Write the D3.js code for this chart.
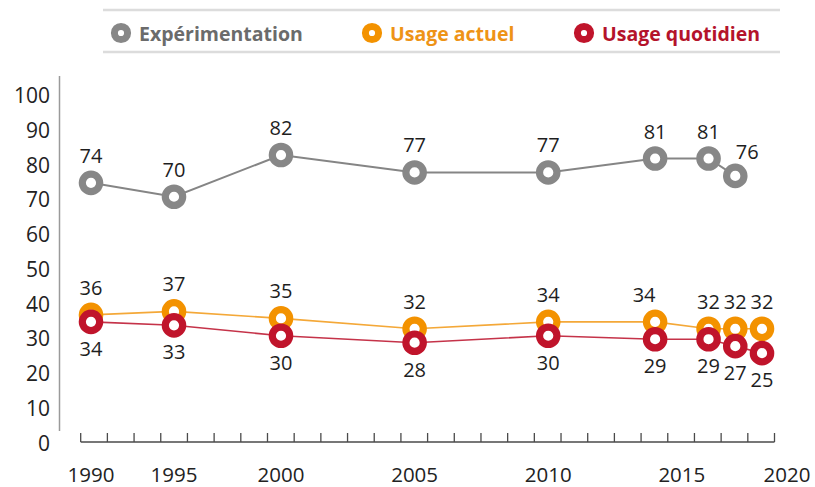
<!DOCTYPE html>
<html>
<head>
<meta charset="utf-8">
<script src="https://cdn.jsdelivr.net/npm/d3@7"></script>
<style>
  html, body { margin: 0; padding: 0; background: #ffffff; }
  svg { display: block; }
  text { font-family: "Open Sans", "Noto Sans", sans-serif; }
</style>
</head>
<body>
<svg id="chart" width="815" height="487"></svg>
<script>
// ---- data ----
const years = [1990, 1995, 2000, 2005, 2010, 2014, 2016, 2017, 2018];
const experimentation = [74, 70, 82, 77, 77, 81, 81, 76];
const usageActuel = [36, 37, 35, 32, 34, 34, 32, 32, 32];
const usageQuotidien = [34, 33, 30, 28, 30, 29, 29, 27, 25];
const seriesNames = ["Expérimentation", "Usage actuel", "Usage quotidien"];
const xTickLabels = [1990, 1995, 2000, 2005, 2010, 2015, 2020];
const yTickLabels = [0, 10, 20, 30, 40, 50, 60, 70, 80, 90, 100];

// ---- styles ----
const colors = ["#878787", "#f39200", "#c0142b"];
const lineColors = ["#858585", "#f4a838", "#c53349"];
const textColors = ["#6b6b6b", "#ee9316", "#b4132b"];

const svg = d3.select("#chart");

// non-uniform time axis as drawn in the original
const x = d3.scaleLinear()
  .domain([1990, 1995, 2000, 2018, 2020])
  .range([91, 174, 281, 762, 787]);
const y = d3.scaleLinear().domain([0, 100]).range([440, 92.5]);

// ---- legend ----
const lg = svg.append("g");
[10, 52].forEach(yy => lg.append("line")
  .attr("x1", 103).attr("x2", 780).attr("y1", yy).attr("y2", yy)
  .attr("stroke", "#dcdcdc").attr("stroke-width", 2.5));
const legendX = [121, 372, 584];
seriesNames.forEach((name, i) => {
  lg.append("circle").attr("cx", legendX[i]).attr("cy", 33).attr("r", 6.6)
    .attr("fill", "#fff").attr("stroke", colors[i]).attr("stroke-width", 7);
  lg.append("text").attr("x", legendX[i] + 18).attr("y", 40.5)
    .attr("font-size", 19.5).attr("font-weight", 700)
    .attr("fill", textColors[i]).text(name);
});

// ---- y axis ----
svg.append("line").attr("x1", 59.5).attr("x2", 59.5).attr("y1", 76).attr("y2", 431)
  .attr("stroke", "#9a9a9a").attr("stroke-width", 1.5);
svg.append("g").selectAll("text").data(yTickLabels).join("text")
  .attr("x", 50).attr("y", d => y(d)).attr("dy", "0.5em")
  .attr("text-anchor", "end").attr("font-size", 21).attr("fill", "#222")
  .text(d => d);

// ---- x axis ----
const tickIdx = d3.range(27);
const tx = d3.scaleLinear().domain([0, 26]).range([80.7, 774.5]);
const xa = svg.append("g");
xa.append("line").attr("x1", tx(0)).attr("x2", tx(26)).attr("y1", 442).attr("y2", 442)
  .attr("stroke", "#4a4a4a").attr("stroke-width", 1.6);
xa.selectAll("line.tk").data(tickIdx).join("line").attr("class", "tk")
  .attr("x1", d => tx(d)).attr("x2", d => tx(d)).attr("y1", 442).attr("y2", 433)
  .attr("stroke", "#4a4a4a").attr("stroke-width", 1.3);
xa.selectAll("text").data(xTickLabels).join("text")
  .attr("x", d => x(d)).attr("y", 482).attr("text-anchor", "middle")
  .attr("font-size", 20.5).attr("fill", "#222").text(d => d);

// ---- series ----
const allSeries = [experimentation, usageActuel, usageQuotidien];
const labelDy = [-20, -20, 34];
const labelShift = { "0-2017": [12, 3], "1-2014": [-11, 0] };
const line = d3.line().x(d => x(d.year)).y(d => y(d.v));

const seriesData = allSeries.map(vals => vals.map((v, j) => ({ year: years[j], v })));

// lines first
seriesData.forEach((pts, i) => {
  svg.append("path").datum(pts).attr("d", line)
    .attr("fill", "none").attr("stroke", lineColors[i])
    .attr("stroke-width", i === 0 ? 2 : 1.6);
});
// markers
seriesData.forEach((pts, i) => {
  svg.append("g").selectAll("circle").data(pts).join("circle")
    .attr("cx", d => x(d.year)).attr("cy", d => y(d.v)).attr("r", 8.7)
    .attr("fill", "#fff").attr("stroke", colors[i]).attr("stroke-width", 7.2);
});
// value labels
seriesData.forEach((pts, i) => {
  svg.append("g").selectAll("text").data(pts).join("text")
    .attr("x", d => x(d.year) + ((labelShift[i + "-" + d.year] || [0, 0])[0]))
    .attr("y", d => y(d.v) + labelDy[i] + ((labelShift[i + "-" + d.year] || [0, 0])[1]))
    .attr("text-anchor", "middle").attr("font-size", 20).attr("fill", "#1e1e1e")
    .text(d => d.v);
});
</script>
</body>
</html>
